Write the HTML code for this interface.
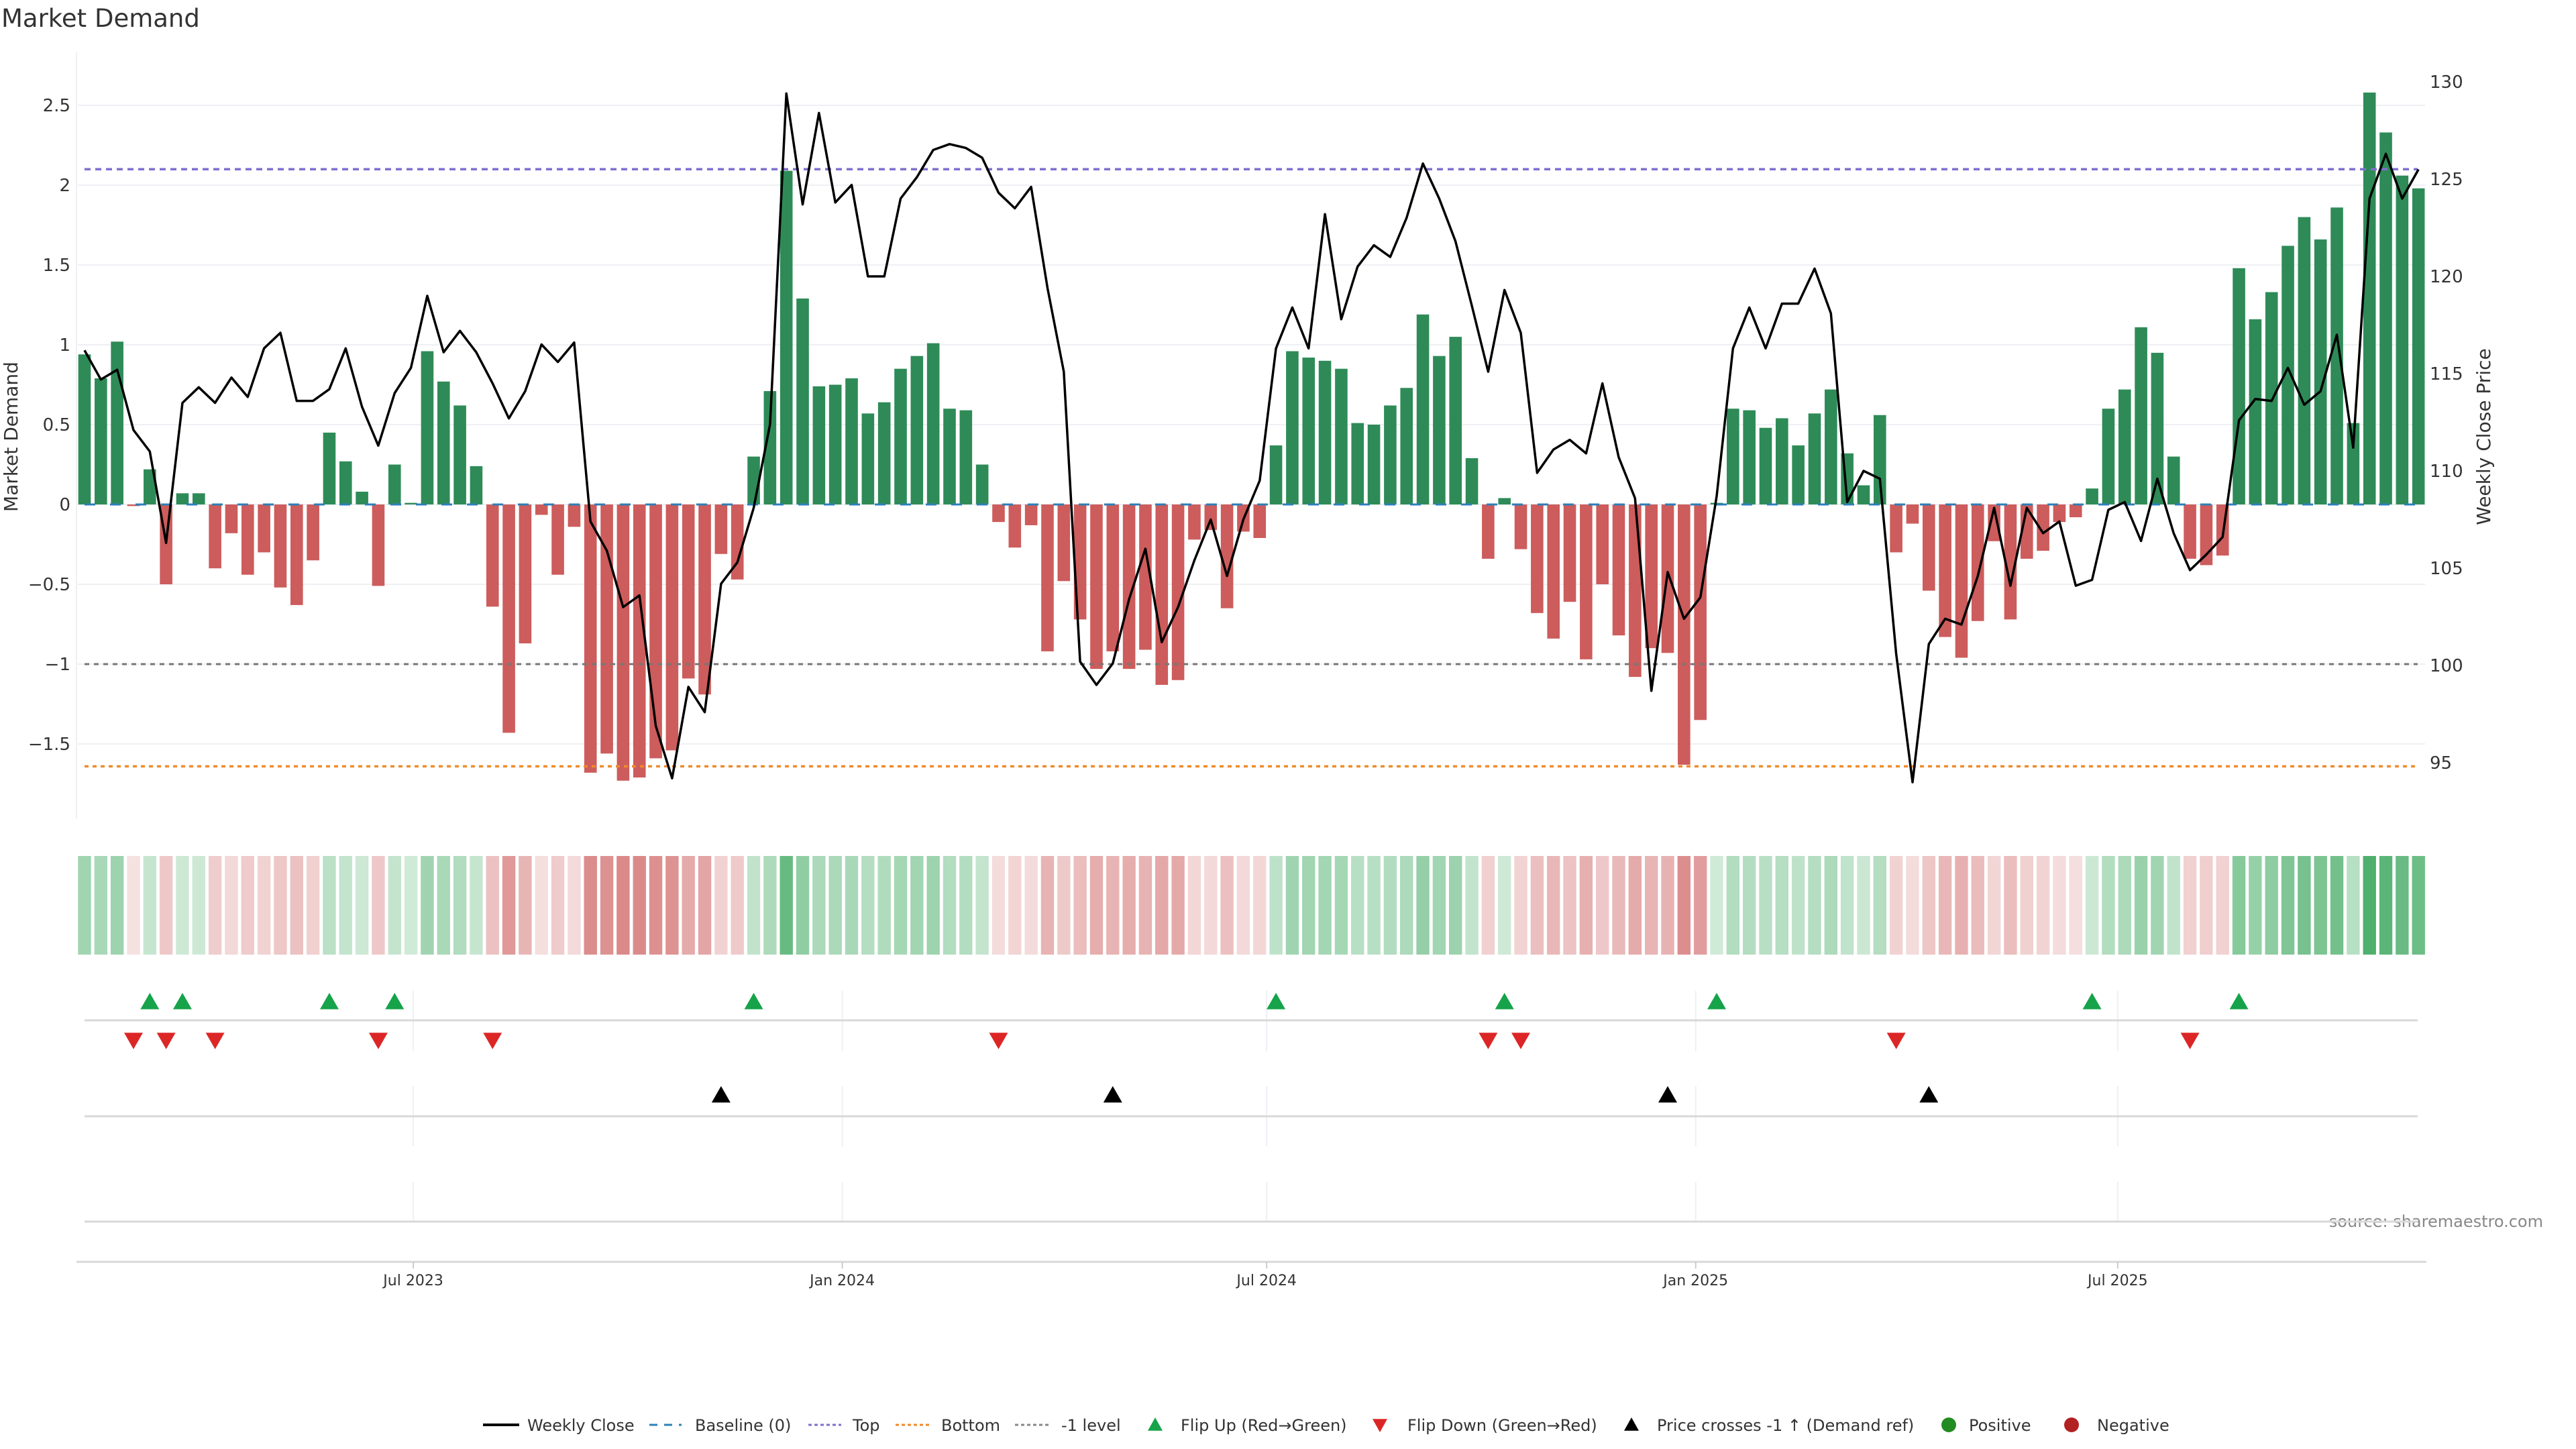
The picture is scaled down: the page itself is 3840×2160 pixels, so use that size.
<!DOCTYPE html>
<html><head><meta charset="utf-8"><title>Market Demand</title>
<style>
html,body{margin:0;padding:0;background:#fff;}
svg{display:block;font-family:"DejaVu Sans","Liberation Sans",sans-serif;}
</style></head>
<body>
<svg id="chart" width="3840" height="2160" viewBox="0 0 3840 2160" xmlns="http://www.w3.org/2000/svg">
<rect x="0" y="0" width="3840" height="2160" fill="#fff"/>
<text x="2" y="40" font-size="37" fill="#333">Market Demand</text>
<text transform="translate(26,651) rotate(-90)" text-anchor="middle" font-size="28" fill="#333">Market Demand</text>
<text transform="translate(3712,651) rotate(-90)" text-anchor="middle" font-size="28" fill="#333">Weekly Close Price</text>
<text x="3791" y="1829" text-anchor="end" font-size="24" fill="#888">source: sharemaestro.com</text>
<g id="layer"></g>
</svg>
<script>
// ---- data ----
const startDate = "2023-02-10";
const demand = [0.94,0.79,1.02,-0.01,0.22,-0.50,0.07,0.07,-0.40,-0.18,-0.44,-0.30,-0.52,-0.63,-0.35,0.45,0.27,0.08,-0.51,0.25,
0.01,0.96,0.77,0.62,0.24,-0.64,-1.43,-0.87,-0.065,-0.44,-0.14,-1.68,-1.56,-1.73,-1.71,-1.59,-1.54,-1.09,-1.19,-0.31,
-0.47,0.30,0.71,2.09,1.29,0.74,0.75,0.79,0.57,0.64,0.85,0.93,1.01,0.60,0.59,0.25,-0.11,-0.27,-0.13,-0.92,
-0.48,-0.72,-1.03,-0.92,-1.03,-0.91,-1.13,-1.10,-0.22,-0.16,-0.65,-0.17,-0.21,0.37,0.96,0.92,0.90,0.85,0.51,0.50,
0.62,0.73,1.19,0.93,1.05,0.29,-0.34,0.04,-0.28,-0.68,-0.84,-0.61,-0.97,-0.50,-0.82,-1.08,-0.90,-0.93,-1.63,-1.35,
0.01,0.60,0.59,0.48,0.54,0.37,0.57,0.72,0.32,0.12,0.56,-0.30,-0.12,-0.54,-0.83,-0.96,-0.73,-0.23,-0.72,-0.34,
-0.29,-0.11,-0.08,0.10,0.60,0.72,1.11,0.95,0.30,-0.34,-0.38,-0.32,1.48,1.16,1.33,1.62,1.80,1.66,1.86,0.51,
2.58,2.33,2.06,1.98];
const price = [116.2,114.7,115.2,112.1,111.0,106.3,113.5,114.3,113.5,114.8,113.8,116.3,117.1,113.6,113.6,114.2,116.3,113.3,111.3,114.0,
115.3,119.0,116.1,117.2,116.1,114.5,112.7,114.1,116.5,115.6,116.6,107.4,105.9,103.0,103.6,96.9,94.2,98.9,97.6,104.2,
105.3,108.1,112.4,129.4,123.7,128.4,123.8,124.7,120.0,120.0,124.0,125.1,126.5,126.8,126.6,126.1,124.3,123.5,124.6,119.4,
115.1,100.2,99.0,100.1,103.4,106.0,101.2,103.0,105.4,107.5,104.6,107.5,109.5,116.3,118.4,116.3,123.2,117.8,120.5,121.6,
121.0,123.0,125.8,124.0,121.8,118.5,115.1,119.3,117.1,109.9,111.1,111.6,110.9,114.5,110.7,108.6,98.7,104.8,102.4,103.5,
108.7,116.3,118.4,116.3,118.6,118.6,120.4,118.1,108.4,110.0,109.6,100.6,94.0,101.1,102.4,102.1,104.6,108.1,104.1,108.1,
106.8,107.4,104.1,104.4,108.0,108.4,106.4,109.6,106.8,104.9,105.7,106.6,112.6,113.7,113.6,115.3,113.4,114.1,117.0,111.2,
124.0,126.3,124.0,125.5];
const leftTicks = [-1.5,-1,-0.5,0,0.5,1,1.5,2,2.5];
const rightTicks = [95,100,105,110,115,120,125,130];
const dateTicks = ["2023-07-01","2024-01-01","2024-07-01","2025-01-01","2025-07-01"];
const dateTickLabels = ["Jul 2023","Jan 2024","Jul 2024","Jan 2025","Jul 2025"];
const topLevel = 2.1;
const bottomLevel = -1.64;
const minusLevel = -1;
const priceRef = 100;

// ---- axes ----
const NS = "http://www.w3.org/2000/svg";
const layer = document.getElementById('layer');
const DAY = 86400000;
const t0 = Date.parse(startDate);
const pxPerDay = 24.33/7;
function xDate(d){ return 126 + (Date.parse(d)-t0)/DAY*pxPerDay; }
function xIdx(i){ return 126 + i*24.33; }
function yDem(v){ return 752 - v*238; }
function yPrice(p){ return 992 - (p-100)*29.0; }
function mk(tag, attrs, parent){
  const e = document.createElementNS(NS, tag);
  for (const k in attrs) e.setAttribute(k, attrs[k]);
  (parent||layer).appendChild(e);
  return e;
}
function fmt(v){ return (v<0?"\u2212":"") + String(Math.abs(v)); }

leftTicks.forEach(v=>{
  const g = mk('line',{x1:116,x2:3615,y1:yDem(v),y2:yDem(v),stroke:'#eef0f4','stroke-width':2});
  
  
  const t = mk('text',{x:105,y:yDem(v)+9,'text-anchor':'end','font-size':26,fill:'#333'});
  t.textContent = fmt(v);
  
  
});
const yAxisLine = mk('line',{x1:114,x2:114,y1:78,y2:1220,stroke:'#eef0f4','stroke-width':2});


rightTicks.forEach(p=>{
  const t = mk('text',{x:3622,y:yPrice(p)+9,'font-size':26,fill:'#333'});
  t.textContent = String(p);
  
  
});

demand.forEach((v,i)=>{
  const y0 = yDem(0), y1 = yDem(v);
  const r = mk('rect',{x:xIdx(i)-9.3,y:Math.min(y0,y1),width:18.6,height:Math.max(Math.abs(y1-y0),0.5),fill:v>=0?'#2e8b57':'#cd5c5c'});
  
  
});

function hline(y, color, dash, name, w){
  const l = mk('line',{x1:126,x2:3604,y1:y,y2:y,stroke:color,'stroke-width':w||3,'stroke-dasharray':dash});
  
  
}
hline(yDem(0),'#2c7fb8','16 22','baseline-zero',3);
hline(yDem(topLevel),'#7f6fcf','9 7','top-level-line',3.5);
hline(yDem(bottomLevel),'#ee8a2a','6 6','bottom-level-line',3.5);
hline(yDem(minusLevel),'#777','7 7','minus-one-level-line',3);

let d = '';
price.forEach((p,i)=>{ d += (i?'L':'M') + xIdx(i).toFixed(1) + ' ' + yPrice(p).toFixed(1); });
const pl = mk('path',{d:d,fill:'none',stroke:'#000','stroke-width':3.5,'stroke-linejoin':'round'});



demand.forEach((v,i)=>{
  const a = v>=0 ? Math.min(0.9, 0.22 + 0.62*v/2.6) : Math.min(0.9, 0.18 + 0.55*(-v)/1.75);
  const c = v>=0 ? [44,160,80] : [205,92,92];
  const col = 'rgb(' + c.map(k=>Math.round(255-(255-k)*a)).join(',') + ')';
  const r = mk('rect',{x:xIdx(i)-9.7,y:1276,width:19.4,height:147,fill:col});
  
  
});

[[1477,1567,1521],[1619,1709,1664],[1762,1821,1821]].forEach((pn,k)=>{
  dateTicks.forEach(dt=>{
    const g = mk('line',{x1:xDate(dt),x2:xDate(dt),y1:pn[0],y2:pn[1],stroke:'#eef0f4','stroke-width':2});
    
    
  });
  const l = mk('line',{x1:126,x2:3604,y1:pn[2],y2:pn[2],stroke:'#d8d8d8','stroke-width':3});
  
  
});
function tri(x,y,up,color,name){
  const s=14;
  const pts = up ? [[x,y-s],[x-s,y+s*0.75],[x+s,y+s*0.75]] : [[x,y+s],[x-s,y-s*0.75],[x+s,y-s*0.75]];
  const p = mk('polygon',{points:pts.map(q=>q.join(',')).join(' '),fill:color});
  
  
}
for (let i=1;i<demand.length;i++){
  if (demand[i-1]<0 && demand[i]>=0) tri(xIdx(i),1494,true,'#16a34a','flip-up-marker');
  if (demand[i-1]>=0 && demand[i]<0) tri(xIdx(i),1550,false,'#dc2626','flip-down-marker');
  if (price[i-1]<priceRef && price[i]>=priceRef) tri(xIdx(i),1633,true,'#000','price-cross-marker');
}

const xa = mk('line',{x1:114,x2:3617,y1:1881,y2:1881,stroke:'#d8d8d8','stroke-width':3});


dateTicks.forEach((dt,k)=>{
  const tk = mk('line',{x1:xDate(dt),x2:xDate(dt),y1:1881,y2:1891,stroke:'#ccc','stroke-width':2});
  
  
  const t = mk('text',{x:xDate(dt),y:1916,'text-anchor':'middle','font-size':22,fill:'#333'});
  t.textContent = dateTickLabels[k];
  
  
});

const lg = mk('g',{});


const ly = 2124;
function ltext(x,s){ const t=mk('text',{x:x,y:ly+9,'font-size':24,fill:'#333'},lg); t.textContent=s;   }
function lline(x1,x2,color,dash,w){ const l=mk('line',{x1:x1,x2:x2,y1:ly,y2:ly,stroke:color,'stroke-width':w,'stroke-dasharray':dash},lg);   }
lline(720,774,'#000','',4); ltext(786,'Weekly Close');
lline(968,1016,'#2c7fb8','12 10',3); ltext(1036,'Baseline (0)');
lline(1205,1254,'#7f6fcf','5 4',3); ltext(1271,'Top');
lline(1335,1389,'#ee8a2a','5 4',3); ltext(1403,'Bottom');
lline(1513,1567,'#888','5 4',3); ltext(1582,'-1 level');
function ltri(x,up,c){ const s=11; const pts= up?[[x,ly-s],[x-s,ly+s*0.8],[x+s,ly+s*0.8]]:[[x,ly+s],[x-s,ly-s*0.8],[x+s,ly-s*0.8]]; const p=mk('polygon',{points:pts.map(q=>q.join(',')).join(' '),fill:c},lg);   }
ltri(1722,true,'#16a34a'); ltext(1760,'Flip Up (Red\u2192Green)');
ltri(2057,false,'#dc2626'); ltext(2098,'Flip Down (Green\u2192Red)');
ltri(2432,true,'#000'); ltext(2470,'Price crosses -1 \u2191 (Demand ref)');
const c1=mk('circle',{cx:2905,cy:ly,r:11,fill:'#228b22'},lg);  
ltext(2935,'Positive');
const c2=mk('circle',{cx:3088,cy:ly,r:11,fill:'#b22222'},lg);  
ltext(3126,'Negative');
</script>
</body></html>
